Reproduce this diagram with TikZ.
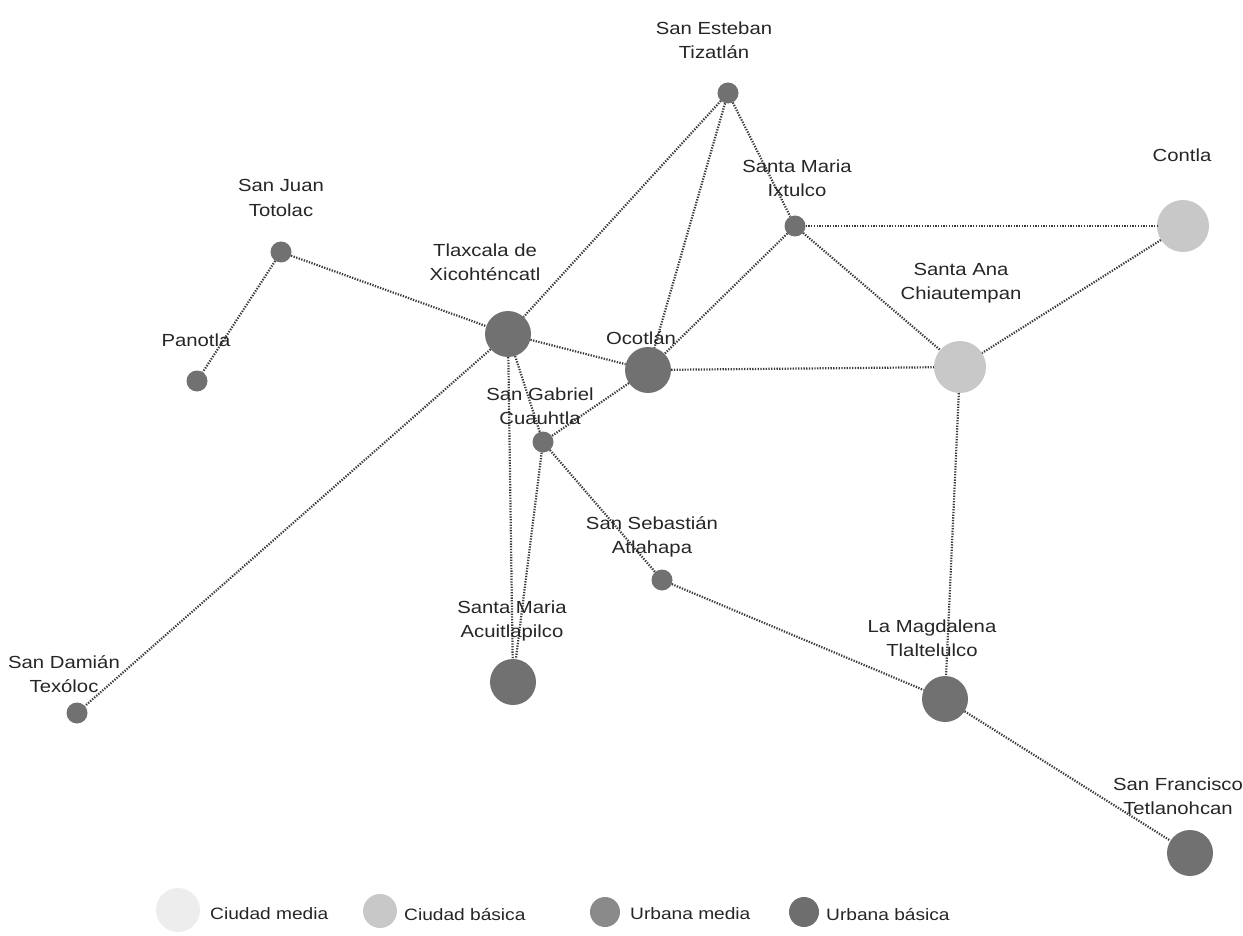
\documentclass[tikz,border=0pt]{standalone}
\usepackage{fontspec}
\setmainfont{Liberation Sans}[FakeStretch=1.16]
\definecolor{dk}{HTML}{717171}
\definecolor{lt}{HTML}{C8C8C8}
\definecolor{vlt}{HTML}{EDEDED}
\definecolor{um}{HTML}{8A8A8A}
\definecolor{ub}{HTML}{6E6E6E}
\definecolor{edgec}{HTML}{3A3A3A}
\definecolor{txt}{HTML}{262626}
\begin{document}
\begin{tikzpicture}[x=1pt,y=-1pt,
  small/.style={circle,fill=dk,minimum size=21pt,inner sep=0pt},
  big/.style={circle,fill=dk,minimum size=46pt,inner sep=0pt},
  light/.style={circle,fill=lt,minimum size=52pt,inner sep=0pt},
  lbl/.style={text=txt,font=\fontsize{17.5}{24.5}\selectfont,align=center,inner sep=0pt},
  edge/.style={draw=edgec,line width=2.2pt,dash pattern=on 1.3pt off 1.4pt},
  leg/.style={text=txt,font=\fontsize{16.5}{24}\selectfont,anchor=west,inner sep=0pt}]
\useasboundingbox (0,0) rectangle (1243,936);
\fill[white] (0,0) rectangle (1243,936);
% nodes
\node[small] (tiz) at (728,93) {};
\node[small] (ixt) at (795,226) {};
\node[light] (con) at (1183,226) {};
\node[small] (tot) at (281,252) {};
\node[big] (tla) at (508,334) {};
\node[big] (oco) at (648,370) {};
\node[light] (ana) at (960,367) {};
\node[small] (pan) at (197,381) {};
\node[small] (gab) at (543,442) {};
\node[small] (seb) at (662,580) {};
\node[big] (acu) at (513,682) {};
\node[small] (dam) at (77,713) {};
\node[big] (mag) at (945,699) {};
\node[big] (fra) at (1190,853) {};
% edges
\path[edge] (tiz) -- (tla);
\path[edge] (tiz) -- (oco);
\path[edge] (tiz) -- (ixt);
\path[edge] (ixt) -- (con);
\path[edge] (ixt) -- (oco);
\path[edge] (ixt) -- (ana);
\path[edge] (con) -- (ana);
\path[edge] (tot) -- (pan);
\path[edge] (tot) -- (tla);
\path[edge] (tla) -- (oco);
\path[edge] (tla) -- (dam);
\path[edge] (tla) -- (acu);
\path[edge] (tla) -- (gab);
\path[edge] (oco) -- (gab);
\path[edge] (oco) -- (ana);
\path[edge] (gab) -- (acu);
\path[edge] (gab) -- (seb);
\path[edge] (seb) -- (mag);
\path[edge] (ana) -- (mag);
\path[edge] (mag) -- (fra);
% labels
\node[lbl] (ltiz) at (714,40) {San Esteban\\Tizatlán};
\node[lbl] (lixt) at (797,178) {Santa Maria\\Ixtulco};
\node[lbl] (lcon) at (1182,155) {Contla};
\node[lbl] (ltot) at (281,198) {San Juan\\Totolac};
\node[lbl] (ltla) at (485,262) {Tlaxcala de\\Xicohténcatl};
\node[lbl] (loco) at (641,338) {Ocotlán};
\node[lbl] (lana) at (961,283) {Santa Ana\\Chiautempan};
\node[lbl] (lpan) at (196,340) {Panotla};
\node[lbl] (lgab) at (540,406) {San Gabriel\\Cuauhtla};
\node[lbl] (lseb) at (652,537) {San Sebastián\\Atlahapa};
\node[lbl] (lacu) at (512,621) {Santa Maria\\Acuitlapilco};
\node[lbl] (ldam) at (64,674) {San Damián\\Texóloc};
\node[lbl] (lmag) at (932,638) {La Magdalena\\Tlaltelulco};
\node[lbl] (lfra) at (1178,796) {San Francisco\\Tetlanohcan};
% legend
\node[circle,fill=vlt,minimum size=44pt,inner sep=0pt] (k1) at (178,910) {};
\node[leg] (t1) at (210,914) {Ciudad media};
\node[circle,fill=lt,minimum size=34pt,inner sep=0pt] (k2) at (380,911) {};
\node[leg] (t2) at (404,914) {Ciudad básica};
\node[circle,fill=um,minimum size=30pt,inner sep=0pt] (k3) at (605,912) {};
\node[leg] (t3) at (630,914) {Urbana media};
\node[circle,fill=ub,minimum size=30pt,inner sep=0pt] (k4) at (804,912) {};
\node[leg] (t4) at (826,914) {Urbana básica};
\end{tikzpicture}
\end{document}
